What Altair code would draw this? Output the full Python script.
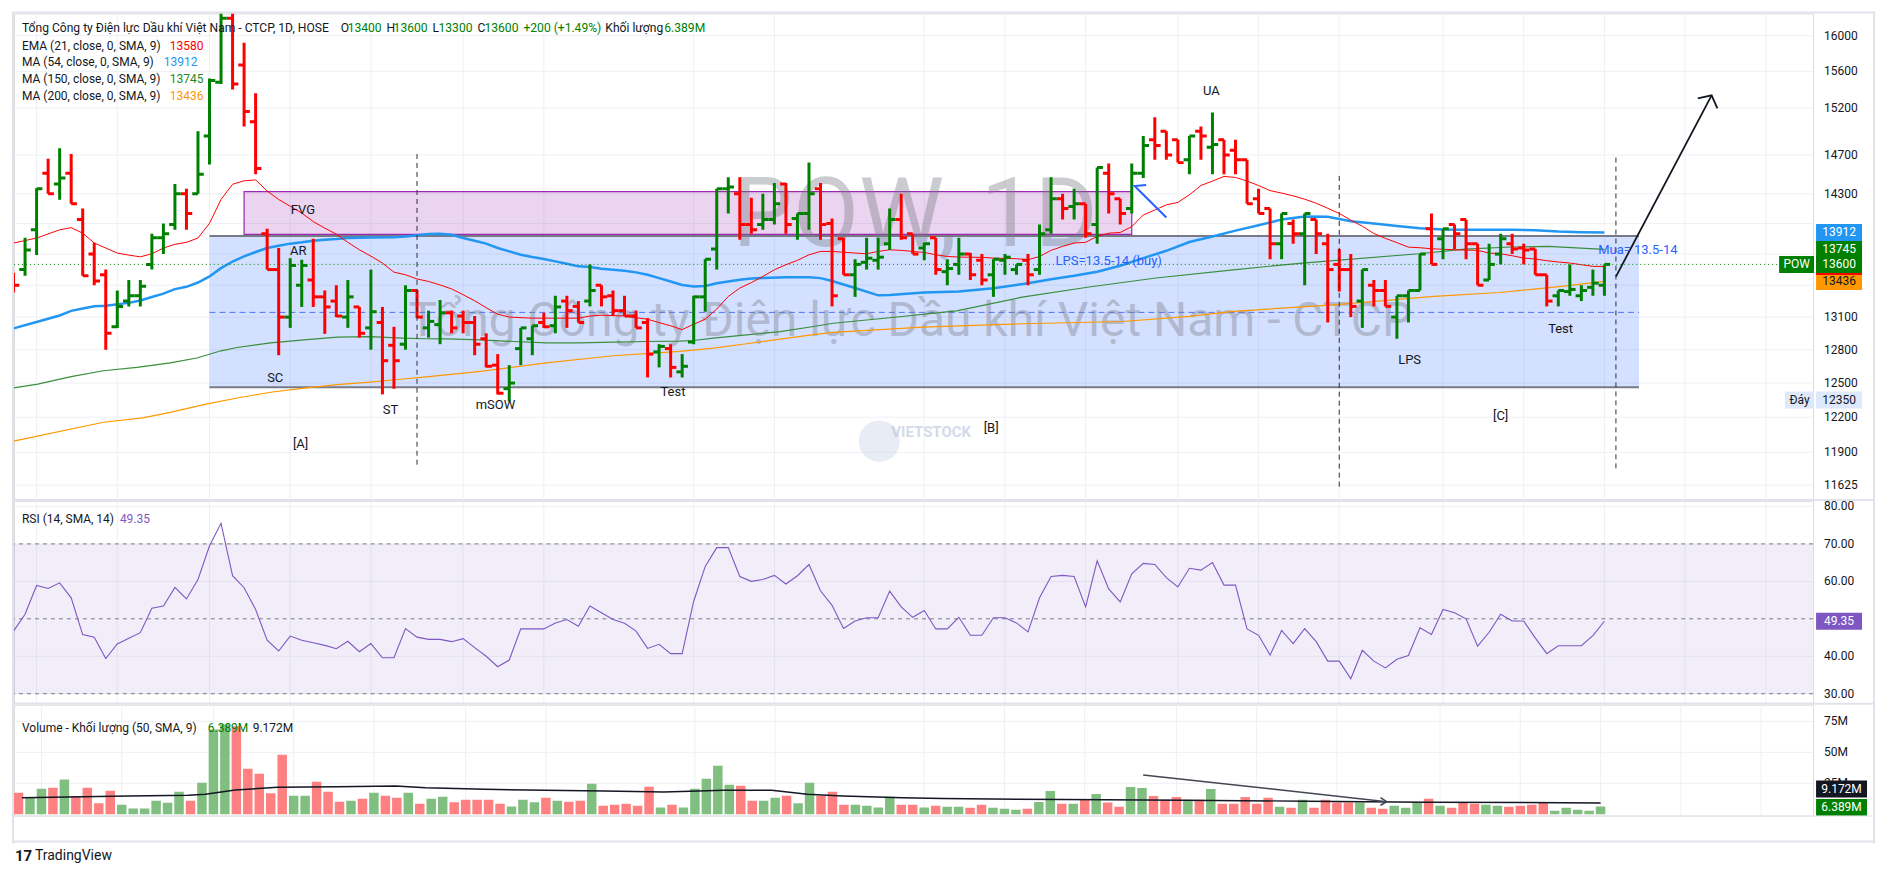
import altair as alt
import pandas as pd

# ---------------- data ----------------
OPEN = [13450, 13550, 13940, 14510, 14400, 14510, 14040, 13700, 13500, 13010,
        13250, 13300, 13600, 13860, 13990, 14300, 14300, 14900, 15480, 16200,
        15670, 15050, 13900, 13550, 13100, 13400, 13450, 13290, 13250, 13100,
        13195, 13000, 13050, 12840, 12850, 13350, 13000, 13030, 13140, 13110,
        13050, 12900, 12660, 12450, 12810, 12900, 13050, 13020, 13250, 13200,
        13250, 13400, 13300, 13160, 13110, 13050, 12780, 12810, 12600, 12870,
        13290, 13750, 14350, 14300, 13990, 13990, 14040, 14400, 14050, 14100,
        14350, 14000, 13850, 13500, 13620, 13640, 13800, 14040, 13900, 13760,
        13860, 13530, 13600, 13700, 13640, 13500, 13640, 13550, 13640, 13550,
        13940, 14250, 14170, 14200, 13990, 14510, 14250, 14150, 14510, 14860,
        14950, 14860, 14650, 14950, 14780, 14860, 14750, 14650, 14250, 14150,
        13800, 14000, 13900, 14040, 13800, 13600, 13550, 13250, 13400, 13350,
        13100, 13300, 13350, 13950, 13850, 13990, 14040, 13800, 13450, 13700,
        13800, 13760, 13750, 13500, 13300, 13340, 13300, 13380, 13400]
HIGH = [13520, 13860, 14355, 14660, 14770, 14710, 14150, 13810, 13550, 13350,
        13450, 13450, 13900, 14000, 14400, 14350, 14950, 15520, 16400, 16400,
        15920, 15360, 13950, 13760, 13660, 13645, 13850, 13350, 13400, 13450,
        13195, 13550, 13195, 13010, 13400, 13355, 13160, 13260, 13160, 13160,
        13110, 12950, 12760, 12660, 13000, 13020, 13140, 13300, 13300, 13250,
        13600, 13400, 13350, 13300, 13160, 13090, 12850, 12850, 12760, 13300,
        13650, 14350, 14470, 14470, 14260, 14300, 14410, 14410, 14100, 14620,
        14410, 14050, 13860, 13650, 13860, 13860, 14150, 14300, 13900, 13810,
        13860, 13650, 13860, 13710, 13700, 13650, 13700, 13600, 13700, 13990,
        14470, 14300, 14350, 14200, 14570, 14610, 14250, 14610, 14900, 15100,
        14950, 14860, 14900, 15000, 15150, 14860, 14860, 14650, 14350, 14150,
        14100, 14040, 14100, 14040, 13900, 13750, 13700, 13550, 13450, 13450,
        13300, 13350, 13700, 14100, 13950, 13990, 14040, 13800, 13800, 13900,
        13900, 13800, 13750, 13500, 13350, 13600, 13400, 13550, 13600]
LOW = [13330, 13490, 13690, 14300, 14240, 14200, 13490, 13400, 12800, 13000,
       13200, 13200, 13550, 13700, 13940, 13940, 14300, 14600, 15460, 15400,
       15000, 14500, 13550, 12750, 13000, 13195, 13195, 12945, 13100, 13000,
       12910, 12800, 12400, 12450, 12800, 13090, 12910, 12850, 12950, 12950,
       12750, 12640, 12400, 12340, 12660, 12750, 13000, 12950, 13000, 13050,
       13200, 13200, 13110, 13110, 13000, 12550, 12640, 12550, 12550, 12850,
       13150, 13550, 14100, 13840, 13900, 13940, 13990, 13900, 13840, 13940,
       13840, 13200, 13500, 13290, 13550, 13550, 13740, 13840, 13700, 13640,
       13500, 13400, 13500, 13450, 13400, 13290, 13500, 13500, 13400, 13500,
       13900, 14040, 14040, 13860, 13800, 14100, 13990, 14100, 14460, 14650,
       14650, 14620, 14500, 14650, 14500, 14500, 14500, 14200, 14100, 13650,
       13650, 13800, 13400, 13700, 13050, 13340, 13100, 13000, 13200, 13200,
       12900, 13050, 13350, 13600, 13650, 13750, 13650, 13400, 13450, 13600,
       13700, 13600, 13500, 13200, 13200, 13300, 13250, 13300, 13300]
CLOSE = [13400, 13740, 14350, 14300, 14460, 14200, 13490, 13440, 12950, 13200,
         13300, 13390, 13860, 13900, 14300, 14100, 14500, 15500, 16200, 15460,
         15160, 14560, 13550, 13100, 13590, 13590, 13290, 13195, 13110, 13290,
         12950, 13150, 12700, 12700, 13350, 13100, 13060, 13140, 13000, 13050,
         12850, 12650, 12410, 12500, 13000, 13020, 13010, 13195, 13160, 13050,
         13350, 13290, 13160, 13110, 13000, 12760, 12830, 12640, 12650, 13290,
         13650, 14350, 14370, 13990, 13940, 14040, 14200, 13990, 14100, 14300,
         13990, 13300, 13500, 13600, 13660, 13670, 14040, 13860, 13700, 13800,
         13550, 13560, 13700, 13500, 13450, 13650, 13670, 13600, 13500, 13900,
         14250, 14150, 14200, 13900, 14570, 14300, 14100, 14510, 14800, 14800,
         14700, 14620, 14900, 14900, 14810, 14700, 14650, 14200, 14100, 13800,
         14100, 13900, 14100, 13900, 13550, 13550, 13200, 13550, 13350, 13200,
         13300, 13350, 13700, 13600, 13950, 13900, 13800, 13400, 13600, 13850,
         13750, 13740, 13500, 13250, 13350, 13360, 13350, 13420, 13600]
VOLUME_M = [17.5, 13.4, 20.7, 21.5, 28.0, 14.8, 21.5, 8.9, 19.1, 7.8,
            4.6, 4.6, 11.0, 9.4, 18.3, 11.0, 25.5, 68.5, 72.6, 71.2,
            36.8, 32.8, 16.9, 48.1, 15.0, 15.0, 26.3, 18.3, 10.2, 11.0,
            12.6, 17.5, 15.0, 13.4, 17.5, 8.6, 12.6, 14.2, 9.7, 11.8,
            11.8, 11.8, 8.6, 6.2, 11.8, 9.7, 13.4, 11.0, 10.2, 11.0,
            24.7, 7.0, 7.8, 8.6, 7.0, 22.3, 5.4, 7.8, 5.4, 20.7,
            28.8, 39.2, 23.9, 23.1, 11.0, 11.0, 13.4, 15.0, 8.9, 25.5,
            15.0, 18.3, 7.8, 7.8, 7.0, 5.4, 14.2, 7.8, 7.8, 5.4,
            7.0, 6.1, 6.1, 5.3, 7.7, 5.3, 4.5, 3.7, 4.5, 10.0,
            18.8, 8.5, 8.5, 11.7, 16.4, 9.5, 6.1, 22.0, 21.2, 14.8,
            11.7, 14.0, 11.7, 11.7, 20.4, 8.5, 8.5, 14.0, 8.5, 13.3,
            6.1, 5.3, 11.7, 5.3, 11.7, 9.5, 9.5, 9.5, 5.3, 4.5,
            6.9, 5.3, 9.5, 12.5, 6.9, 5.3, 9.5, 8.5, 7.7, 6.9,
            6.1, 6.9, 7.7, 9.5, 2.9, 5.3, 3.7, 2.9, 6.389]
RSI14 = [46.7, 51.2, 58.9, 58.1, 59.6, 55.6, 45.8, 45.1, 39.4, 43.3,
         44.8, 46.3, 52.8, 53.4, 58.4, 55.3, 60.5, 69.5, 75.5, 61.5,
         58.3, 52.5, 44.3, 41.4, 45.4, 44.3, 43.6, 42.9, 42.0, 44.0,
         41.2, 43.4, 39.6, 39.6, 47.4, 45.1, 44.5, 44.5, 43.9, 44.7,
         42.3, 40.0, 37.2, 39.0, 47.3, 47.3, 47.3, 48.9, 49.8, 48.0,
         53.4, 51.6, 49.8, 48.8, 46.7, 42.1, 43.2, 40.7, 40.7, 54.7,
         64.0, 69.0, 69.0, 61.3, 60.0, 60.5, 61.6, 59.3, 61.5, 64.5,
         57.5, 53.6, 47.4, 49.4, 50.3, 50.3, 57.4, 53.2, 50.4, 52.2,
         47.3, 47.3, 50.4, 45.6, 45.6, 50.3, 50.3, 48.9, 46.5, 55.6,
         61.3, 61.6, 61.3, 53.2, 65.5, 58.0, 54.5, 62.0, 64.8, 64.5,
         61.0, 58.5, 63.5, 63.0, 65.0, 59.0, 59.0, 47.3, 45.6, 40.3,
         46.9, 43.4, 47.4, 43.9, 38.7, 38.7, 34.0, 41.6, 38.7, 36.9,
         39.2, 40.2, 47.6, 45.8, 52.5, 51.6, 50.0, 42.7, 46.4, 51.2,
         49.4, 49.4, 44.9, 40.7, 42.8, 42.8, 42.8, 45.5, 49.35]

EMA21 = [(0, 13808), (2, 13857), (4, 13938), (5, 13960), (6, 13905), (7, 13808), (8, 13759),
         (9, 13710), (10, 13690), (11, 13673), (12, 13703), (13, 13759), (14, 13795), (15, 13815),
         (16, 13857), (17, 14003), (18, 14242), (19, 14397), (20, 14432), (21, 14442), (22, 14328),
         (23, 14242), (24, 14174), (25, 14105), (26, 14020), (27, 13955), (28, 13895), (29, 13815),
         (30, 13742), (31, 13680), (32, 13613), (33, 13525), (34, 13500), (35, 13460), (36, 13436),
         (37, 13403), (38, 13365), (39, 13310), (40, 13253), (41, 13188), (42, 13127), (43, 13100),
         (45, 13090), (49, 13090), (50, 13110), (51, 13118), (53, 13110), (54, 13094), (55, 13080),
         (56, 13049), (57, 13019), (58, 12984), (59, 13034), (60, 13080), (61, 13175), (62, 13294),
         (63, 13373), (64, 13425), (65, 13484), (66, 13548), (67, 13597), (68, 13639), (69, 13693),
         (70, 13726), (71, 13726), (73, 13710), (74, 13703), (75, 13726), (76, 13742), (77, 13736),
         (78, 13726), (79, 13716), (80, 13693), (81, 13677), (82, 13671), (84, 13668), (85, 13661),
         (87, 13655), (88, 13645), (89, 13677), (90, 13736), (91, 13775), (92, 13808), (93, 13815),
         (94, 13873), (95, 13905), (96, 13912), (97, 13970), (98, 14086), (99, 14136), (100, 14188),
         (101, 14212), (102, 14290), (103, 14384), (104, 14430), (105, 14477), (106, 14467),
         (107, 14430), (108, 14384), (109, 14332), (110, 14307), (111, 14279), (112, 14245),
         (113, 14204), (114, 14153), (115, 14102), (116, 14034), (117, 13974), (118, 13902),
         (119, 13854), (120, 13812), (121, 13768), (122, 13762), (123, 13752), (125, 13742),
         (127, 13736), (128, 13710), (129, 13703), (130, 13684), (131, 13661), (132, 13652),
         (133, 13636), (134, 13623), (135, 13613), (136, 13597), (137, 13581), (138, 13580)]
MA54 = [(0, 12995), (2, 13055), (4, 13115), (5, 13158), (6, 13181), (7, 13201), (8, 13207),
        (10, 13233), (11, 13255), (12, 13288), (13, 13320), (14, 13363), (15, 13385), (16, 13426),
        (17, 13484), (18, 13564), (19, 13628), (20, 13677), (21, 13720), (22, 13759), (23, 13782),
        (24, 13802), (25, 13815), (26, 13831), (27, 13841), (28, 13847), (29, 13857), (31, 13863),
        (33, 13866), (34, 13873), (35, 13884), (36, 13896), (37, 13899), (38, 13889), (39, 13857),
        (40, 13831), (41, 13802), (42, 13759), (43, 13726), (44, 13694), (45, 13671), (46, 13652),
        (47, 13629), (48, 13606), (49, 13581), (50, 13574), (51, 13558), (52, 13548), (53, 13539),
        (54, 13523), (55, 13500), (56, 13468), (57, 13435), (58, 13403), (59, 13387), (60, 13393),
        (61, 13419), (62, 13435), (63, 13452), (64, 13465), (65, 13468), (67, 13477), (69, 13477),
        (70, 13468), (71, 13440), (73, 13374), (75, 13304), (76, 13307), (79, 13330), (82, 13340),
        (85, 13371), (88, 13419), (90, 13458), (92, 13490), (94, 13529), (96, 13587), (98, 13661),
        (100, 13732), (102, 13818), (104, 13873), (106, 13930), (108, 13984), (110, 14040),
        (112, 14071), (114, 14068), (116, 14023), (118, 14000), (120, 13977), (122, 13954),
        (124, 13941), (126, 13938), (130, 13938), (132, 13935), (134, 13922), (136, 13915),
        (138, 13912)]
MA150 = [(0, 12458), (2.1, 12490), (5, 12557), (7.8, 12610), (10.7, 12640), (13.6, 12680),
         (15.9, 12725), (18, 12790), (19.4, 12820), (22.3, 12863), (25.2, 12890), (28.1, 12914),
         (30.9, 12920), (33.8, 12905), (35.6, 12900), (37.6, 12899), (40.5, 12890), (43.4, 12875),
         (46.2, 12863), (49.1, 12863), (52, 12869), (54.9, 12875), (57.8, 12878), (59, 12884),
         (60.7, 12905), (63.6, 12935), (66.5, 12965), (69.4, 13013), (71.1, 13043), (76, 13094),
         (81.8, 13158), (87.5, 13287), (93.3, 13383), (99.1, 13469), (105.8, 13548),
         (111.8, 13613), (121.9, 13703), (125.9, 13749), (129.9, 13769), (133.1, 13775),
         (138, 13745)]
MA200 = [(0, 11995), (7.8, 12157), (11.2, 12194), (13.6, 12243), (16.5, 12310), (19.4, 12368),
         (22.3, 12419), (25.2, 12456), (28.1, 12486), (30.9, 12509), (33.8, 12536), (35.6, 12553),
         (40.5, 12605), (46.2, 12680), (52, 12745), (57.8, 12785), (60.7, 12814), (63.6, 12854),
         (66.5, 12897), (69.4, 12937), (71.1, 12958), (78.9, 13007), (87.5, 13038), (96.2, 13059),
         (102, 13106), (105.8, 13154), (114.5, 13214), (123.2, 13294), (128.9, 13331),
         (134.7, 13394), (138, 13436)]
VOL_MA = [(0.3, 13.4), (9.6, 14.8), (14.8, 15.3), (16.3, 16.1), (18.9, 19.6), (22.6, 21.8),
          (27.8, 22.3), (32.9, 22.8), (35.5, 21.5), (40.7, 20.2), (45.9, 19.4), (51.1, 18.8),
          (56.3, 18.0), (61.5, 19.4), (65.7, 19.4), (68.8, 16.1), (71.9, 14.8), (77.1, 13.4),
          (80.6, 12.7), (91.2, 11.9), (101.7, 11.4), (112.3, 10.6), (122.8, 9.8), (138, 9.172)]

TICK_IDX = [2, 9, 17, 24, 31, 39, 46, 59, 66, 79, 86, 93, 101, 108, 115, 124, 131, 138, 145, 152]
TICK_LBL = ["Tháng 2", "11", "Tháng 3", "11", "20", "Tháng 4", "10", "Tháng 5", "13", "Tháng 6",
            "10", "19", "Tháng 7", "10", "21", "Tháng 8", "12", "21", "Tháng 9", "10"]
PRICE_TICKS = [11625, 11900, 12200, 12500, 12800, 13100, 13400, 13700, 14000, 14300, 14700,
               15200, 15600, 16000]
PRICE_TICKS_HIDDEN = [13400, 13700, 14000]
RSI_TICKS = [30, 40, 60, 70, 80]
VOL_TICKS = [25, 50, 75]

WYCKOFF_LABELS = [("UA", 103.9, 15379), ("FVG", 25.1, 14134), ("AR", 24.7, 13729),
                  ("SC", 22.7, 12544), ("ST", 32.7, 12262), ("mSOW", 41.8, 12307),
                  ("Test", 57.2, 12421), ("[A]", 24.9, 11971), ("[B]", 84.8, 12107),
                  ("[C]", 129.0, 12211), ("LPS", 121.1, 12706), ("Test", 134.2, 12989)]
BLUE_NOTES = [("LPS=13.5-14 (buy)", 95.0, 13630), ("Mua= 13.5-14", 140.9, 13740)]
RANGE_BOX = [17, 141, 12462, 13878]
FVG_BOX = [20, 97, 13894, 14322]
MID_LEVEL = [17, 141, 13144]
PHASE_LINES = [(35, 14710, 11792), (115, 14482, 11603), (139, 14672, 11760)]
BIG_ARROW = [(139.0, 13483), (147.3, 15336)]
BIG_HEAD = [(146.1, 15303), (147.3, 15336), (147.8, 15195)]
BLUE_ARROW = [(98.25, 14389), (97.25, 14379), (100.0, 14061)]
VOL_ARROW = [(98.1, 31.8), (119.35, 10.2)]
VOL_HEAD = [(118.8, 13.5), (119.35, 10.2), (118.8, 7.3)]
WATERMARK = [("POW, 1D", 78.2, 13776, 96), ("Tổng Công ty Điện lực Dầu khí Việt Nam - CTCP", 77.8, 12924, 48)]

LAST_CLOSE = 13600
LAST_EMA = 13580
LAST_MA54 = 13912
LAST_MA150 = 13745
LAST_MA200 = 13436
PERIOD_LOW = 12350
LAST_RSI = 49.35
LAST_VOL = 6.389
LAST_VOLMA = 9.172

# ---------------- styling ----------------
FONT = "Roboto"
INK = "#131722"
GRID = "#eef0f5"
FRAME = "#e0e3eb"
UP = "#008000"
DOWN = "#ff0000"
UP_VOL = "#80bf80"
DOWN_VOL = "#ff8080"
BLUE = "#2962ff"
C_EMA, C_MA54, C_MA150, C_MA200 = "#ff0000", "#2196f3", "#388e3c", "#ff9800"
RSI_C = "#7e57c2"

W = 1801
H_P, H_R, H_V = 486, 202, 111

xs = alt.Scale(domain=[0.04, 156.1], nice=False, zero=False)
ps = alt.Scale(type="log", domain=[11512, 16255], nice=False, zero=False)
rs = alt.Scale(domain=[27.6, 81.47], nice=False, zero=False)
vs = alt.Scale(domain=[-1.05, 88.5], nice=False, zero=False)


def X(f):
    return alt.X(f, type="quantitative", scale=xs, axis=None)


def Yp(f, scale):
    return alt.Y(f, type="quantitative", scale=scale, axis=None)


def txt(text, x, y, color=INK, size=12, align="left", weight="normal", baseline="middle"):
    return alt.Chart(pd.DataFrame({"t": [text]})).mark_text(
        align=align, baseline=baseline, fontSize=size, color=color, font=FONT, fontWeight=weight
    ).encode(x=alt.value(x), y=alt.value(y), text="t:N")


def poly(points, scale, color, width, dash=None, clip=True):
    df = pd.DataFrame(points, columns=["i", "v"])
    df["k"] = range(len(df))
    kw = dict(color=color, strokeWidth=width, clip=clip)
    if dash:
        kw["strokeDash"] = dash
    return alt.Chart(df).mark_line(**kw).encode(x=X("i"), y=Yp("v", scale), order="k:Q")


def tag(values, texts, colors, scale, xc, w, tcolor="white", dy=0):
    df = pd.DataFrame({"v": values, "t": texts, "bg": colors})
    ry = 8.5 / (w / 2.0)
    shape = f"M-1,-{ry:.4f}L1,-{ry:.4f}L1,{ry:.4f}L-1,{ry:.4f}Z"
    base = alt.Chart(df).encode(x=alt.value(xc), y=Yp("v", scale))
    box = base.mark_point(shape=shape, size=w * w, filled=True, opacity=1, strokeWidth=0,
                          yOffset=dy).encode(color=alt.Color("bg:N", scale=None))
    lab = base.mark_text(color=tcolor, fontSize=12, font=FONT, dy=dy).encode(text="t:N")
    return box + lab


def y_guides(values, texts, scale):
    df = pd.DataFrame({"v": values, "t": texts})
    grid = alt.Chart(df).mark_rule(color=GRID, strokeWidth=1).encode(y=Yp("v", scale))
    labels = alt.Chart(df).mark_text(align="left", baseline="middle", fontSize=12, font=FONT,
                                     color=INK).encode(x=alt.value(W + 11), y=Yp("v", scale), text="t:N")
    return grid, labels


def x_grid():
    return alt.Chart(pd.DataFrame({"i": TICK_IDX})).mark_rule(color=GRID, strokeWidth=1).encode(x=X("i"))


def hsep(y):
    return alt.Chart(pd.DataFrame({"a": [0]})).mark_rule(color=FRAME, strokeWidth=2).encode(
        x=alt.value(-2), x2=alt.value(W + 61), y=alt.value(y))


def vframe(h):
    left = alt.Chart(pd.DataFrame({"a": [0]})).mark_rule(color=FRAME, strokeWidth=2).encode(
        x=alt.value(-1), y=alt.value(-2), y2=alt.value(h + 2))
    right = alt.Chart(pd.DataFrame({"a": [0]})).mark_rule(color=FRAME, strokeWidth=2).encode(
        x=alt.value(W + 61), y=alt.value(-2), y2=alt.value(h + 2))
    return left + right


bars = pd.DataFrame({"i": list(range(len(OPEN))), "o": OPEN, "h": HIGH, "l": LOW, "c": CLOSE,
                     "vol": VOLUME_M, "rsi": RSI14})
bars["col"] = [UP if c >= o else DOWN for o, c in zip(OPEN, CLOSE)]
bars["vcol"] = [UP_VOL if c >= o else DOWN_VOL for o, c in zip(OPEN, CLOSE)]
bars["il"] = bars["i"] - 0.5
bars["ir"] = bars["i"] + 0.5

lbl_arr = "[" + ",".join("'" + s + "'" for s in TICK_LBL) + "]"
idx_arr = "[" + ",".join(str(v) for v in TICK_IDX) + "]"
x_label_axis = alt.Axis(values=TICK_IDX, grid=False, ticks=False, domain=False,
                        title=None, labelExpr=f"{lbl_arr}[indexof({idx_arr}, datum.value)]",
                        labelPadding=7, labelFontSize=12, labelColor=INK, labelFont=FONT,
                        labelFlush=False, labelOverlap=False)

col_id = alt.Color("col:N", scale=None)

# ---------------- price panel ----------------
p_grid, p_labels = y_guides(PRICE_TICKS,
                            ["" if v in PRICE_TICKS_HIDDEN else str(v) for v in PRICE_TICKS], ps)

rb = pd.DataFrame({"i1": [RANGE_BOX[0]], "i2": [RANGE_BOX[1]], "p1": [RANGE_BOX[2]], "p2": [RANGE_BOX[3]]})
range_fill = alt.Chart(rb).mark_rect(color=BLUE, opacity=0.2).encode(
    x=X("i1"), x2="i2:Q", y=Yp("p1", ps), y2="p2:Q")
range_edges = alt.Chart(pd.DataFrame({"i1": [RANGE_BOX[0]] * 2, "i2": [RANGE_BOX[1]] * 2,
                                      "p": [RANGE_BOX[2], RANGE_BOX[3]]})).mark_rule(
    color="#787b86", strokeWidth=2).encode(x=X("i1"), x2="i2:Q", y=Yp("p", ps))
fb = pd.DataFrame({"i1": [FVG_BOX[0]], "i2": [FVG_BOX[1]], "p1": [FVG_BOX[2]], "p2": [FVG_BOX[3]]})
fvg = alt.Chart(fb).mark_rect(fill="#9c27b0", fillOpacity=0.2, stroke="#9c27b0", strokeWidth=1.2).encode(
    x=X("i1"), x2="i2:Q", y=Yp("p1", ps), y2="p2:Q")
mid = alt.Chart(pd.DataFrame({"i1": [MID_LEVEL[0]], "i2": [MID_LEVEL[1]], "p": [MID_LEVEL[2]]})).mark_rule(
    color="#4a72ff", strokeWidth=1, strokeDash=[6, 4]).encode(x=X("i1"), x2="i2:Q", y=Yp("p", ps))

wm = []
for t, i, p, s in WATERMARK:
    wm.append(alt.Chart(pd.DataFrame({"t": [t], "i": [i], "p": [p]})).mark_text(
        fontSize=s, font=FONT, color="#787b86", opacity=0.38, baseline="alphabetic", align="center"
    ).encode(x=X("i"), y=Yp("p", ps), text="t:N"))
logo_c = alt.Chart(pd.DataFrame({"i": [75.1], "p": [11995]})).mark_point(
    shape="circle", size=1700, filled=True, color="#c9d4e8", opacity=0.45).encode(x=X("i"), y=Yp("p", ps))
logo_t = alt.Chart(pd.DataFrame({"t": ["VIETSTOCK"], "i": [79.6], "p": [12075]})).mark_text(
    fontSize=15, font=FONT, fontWeight="bold", color="#b7c3db", opacity=0.6).encode(
    x=X("i"), y=Yp("p", ps), text="t:N")

ma_lines = [poly(MA200, ps, C_MA200, 1.2), poly(MA150, ps, C_MA150, 1.2),
            poly(MA54, ps, C_MA54, 2.5), poly(EMA21, ps, C_EMA, 1)]

last_line = alt.Chart(pd.DataFrame({"p": [LAST_CLOSE]})).mark_rule(
    color=UP, strokeWidth=1, strokeDash=[1, 3]).encode(y=Yp("p", ps))

stem = alt.Chart(bars).mark_rule(strokeWidth=3, clip=True).encode(
    x=X("i"), y=Yp("l", ps), y2="h:Q", color=col_id)
otick = alt.Chart(bars).mark_rule(strokeWidth=3, clip=True).encode(
    x=X("il"), x2="i:Q", y=Yp("o", ps), color=col_id)
ctick = alt.Chart(bars).mark_rule(strokeWidth=3, clip=True).encode(
    x=X("i"), x2="ir:Q", y=Yp("c", ps), color=col_id)

pl = pd.DataFrame(PHASE_LINES, columns=["i", "p1", "p2"])
phase = alt.Chart(pl).mark_rule(color="#2a2e39", strokeWidth=1, strokeDash=[5, 4]).encode(
    x=X("i"), y=Yp("p1", ps), y2="p2:Q")

arrows = [poly(BIG_ARROW, ps, INK, 1.8, clip=False), poly(BIG_HEAD, ps, INK, 1.8, clip=False),
          poly(BLUE_ARROW, ps, BLUE, 2)]

wl = pd.DataFrame(WYCKOFF_LABELS, columns=["t", "i", "p"])
wy = alt.Chart(wl).mark_text(fontSize=13, font=FONT, color=INK).encode(x=X("i"), y=Yp("p", ps), text="t:N")
bn = pd.DataFrame(BLUE_NOTES, columns=["t", "i", "p"])
bnotes = alt.Chart(bn).mark_text(fontSize=13, font=FONT, color=BLUE).encode(x=X("i"), y=Yp("p", ps), text="t:N")

HS = 12.1
legend = [
    txt("Tổng Công ty Điện lực Dầu khí Việt Nam - CTCP, 1D, HOSE", 8, 14.7, size=HS),
    txt("O", 327, 14.7, size=HS), txt("13400", 334, 14.7, UP, HS),
    txt("H", 373, 14.7, size=HS), txt("13600", 380, 14.7, UP, HS),
    txt("L", 419, 14.7, size=HS), txt("13300", 425, 14.7, UP, HS),
    txt("C", 464, 14.7, size=HS), txt("13600", 471, 14.7, UP, HS),
    txt("+200 (+1.49%)", 510, 14.7, UP, HS),
    txt("Khối lượng", 592, 14.7, size=HS), txt("6.389M", 651, 14.7, UP, HS),
    txt("EMA (21, close, 0, SMA, 9)", 8, 32.3), txt("13580", 156, 32.3, C_EMA),
    txt("MA (54, close, 0, SMA, 9)", 8, 49), txt("13912", 150, 49, C_MA54),
    txt("MA (150, close, 0, SMA, 9)", 8, 66), txt("13745", 156, 66, "#1e8a1e"),
    txt("MA (200, close, 0, SMA, 9)", 8, 83), txt("13436", 156, 83, C_MA200),
]

ptags = [
    tag([LAST_MA200], [str(LAST_MA200)], [C_MA200], ps, 1827, 46, tcolor=INK),
    tag([LAST_EMA], [str(LAST_EMA)], [C_EMA], ps, 1827, 46),
    tag([LAST_MA54], [str(LAST_MA54)], [C_MA54], ps, 1827, 46),
    tag([LAST_MA150], [str(LAST_MA150)], [UP], ps, 1827, 46),
    tag([LAST_CLOSE], [str(LAST_CLOSE)], [UP], ps, 1827, 46),
    tag([LAST_CLOSE], ["POW"], [UP], ps, 1784.5, 35),
    tag([PERIOD_LOW], ["Đáy"], ["#dde8fb"], ps, 1787.5, 29, tcolor=INK),
    tag([PERIOD_LOW], [str(PERIOD_LOW)], ["#dde8fb"], ps, 1827, 46, tcolor=INK),
]

price = alt.layer(
    x_grid(), p_grid, range_fill, fvg, range_edges, mid, *wm, logo_c, logo_t, *ma_lines, last_line,
    stem, otick, ctick, phase, *arrows, wy, bnotes, *legend, p_labels, *ptags,
    hsep(-1), vframe(H_P)
).properties(width=W, height=H_P)

# ---------------- RSI panel ----------------
r_grid, r_labels = y_guides(RSI_TICKS, [f"{v:.2f}" for v in RSI_TICKS], rs)
band = alt.Chart(pd.DataFrame({"a": [70], "b": [30]})).mark_rect(color=RSI_C, opacity=0.1).encode(
    x=alt.value(0), x2=alt.value(W), y=Yp("a", rs), y2="b:Q")
levels = alt.Chart(pd.DataFrame({"r": [70, 50, 30]})).mark_rule(
    color="#787b86", strokeWidth=1, strokeDash=[4, 4]).encode(y=Yp("r", rs))
rsi_line = alt.Chart(bars).mark_line(color=RSI_C, strokeWidth=1.1, clip=True).encode(
    x=X("i"), y=Yp("rsi", rs))
rsi = alt.layer(
    x_grid(), r_grid, band, levels, rsi_line, r_labels,
    txt("RSI (14, SMA, 14)", 8, 18), txt("49.35", 106, 18, RSI_C),
    tag([LAST_RSI], ["49.35"], [RSI_C], rs, 1827, 46),
    hsep(-1), vframe(H_R)
).properties(width=W, height=H_R)

# ---------------- volume panel ----------------
v_grid, v_labels = y_guides(VOL_TICKS, [f"{v}M" for v in VOL_TICKS], vs)
vbars = alt.Chart(bars).mark_bar(size=9.5, clip=True).encode(
    x=alt.X("i:Q", scale=xs, axis=x_label_axis),
    y=alt.Y("vol:Q", scale=vs, stack=None, axis=None),
    color=alt.Color("vcol:N", scale=None))
vol_ma = poly(VOL_MA, vs, INK, 1.5)
vol_arrows = [poly(VOL_ARROW, vs, "#434651", 1.5), poly(VOL_HEAD, vs, "#434651", 1.5)]
vol = alt.layer(
    x_grid(), v_grid, vbars, vol_ma, *vol_arrows, v_labels,
    txt("Volume - Khối lượng (50, SMA, 9)", 8, 23), txt("6.389M", 194, 23, UP),
    txt("9.172M", 239, 23),
    tag([LAST_VOLMA], ["9.172M"], [INK], vs, 1829.5, 51, dy=-14),
    tag([LAST_VOL], ["6.389M"], [UP], vs, 1829.5, 51, dy=1),
    hsep(-1), vframe(H_V + 26),
    alt.Chart(pd.DataFrame({"a": [0]})).mark_rule(color=FRAME, strokeWidth=1).encode(
        x=alt.value(-2), x2=alt.value(W + 61), y=alt.value(H_V + 0.5)),
    alt.Chart(pd.DataFrame({"a": [0]})).mark_rule(color=FRAME, strokeWidth=2).encode(
        x=alt.value(-2), x2=alt.value(W + 61), y=alt.value(H_V + 26)),
    txt("17", 1, 151, INK, 15, weight="bold"),
    txt("TradingView", 21, 151, INK, 14),
).properties(width=W, height=H_V)

chart = alt.vconcat(price, rsi, vol, spacing=2, bounds="flush").properties(
    padding={"left": 2, "top": 1, "right": 0, "bottom": 0}
).configure_view(stroke=None).configure(font=FONT)

chart.save("out.html", embed_options={"renderer": "svg", "actions": False})
